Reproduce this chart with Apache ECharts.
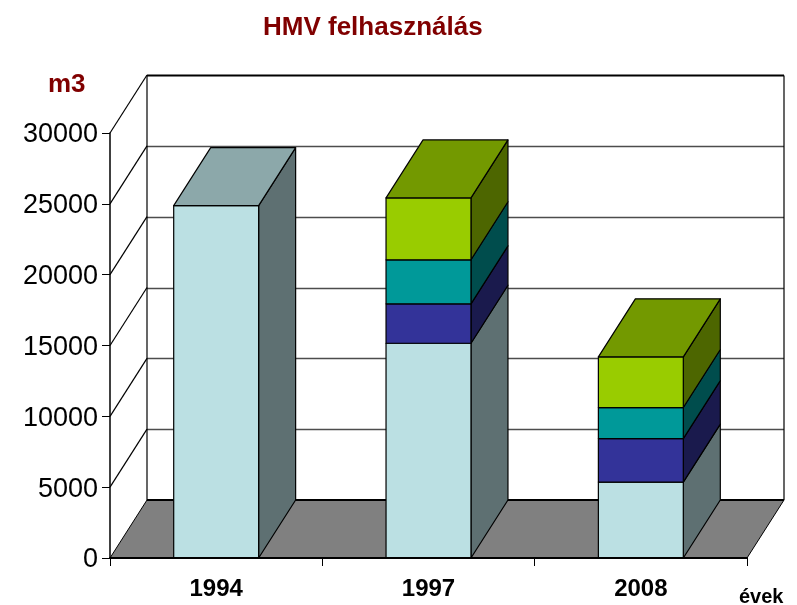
<!DOCTYPE html>
<html>
<head>
<meta charset="utf-8">
<title>HMV felhasználás</title>
<script src="https://cdn.jsdelivr.net/npm/echarts@6/dist/echarts.min.js"></script>
<style>
  html, body { margin: 0; background: #fff; }
  #chart { width: 797px; height: 605px; }
</style>
</head>
<body>
<div id="chart"></div>
<script>
// values
const years = ['1994', '1997', '2008'];
const yTicks = [0, 5000, 10000, 15000, 20000, 25000, 30000];
const light = [24870, 15160, 5360];
const blue = [0, 2780, 3070];
const teal = [0, 3110, 2190];
const green = [0, 4370, 3580];

const layers = [light, blue, teal, green];
const frontColors = ['#BBE0E3', '#333399', '#009999', '#99CC00'];
const topColors = ['#8CA8AA', '#262673', '#007373', '#739900'];
const sideColors = ['#5E7072', '#1A1A4D', '#004D4D', '#4D6600'];

const FONT = '"Liberation Sans", Arial, sans-serif';
// depth of the fake 3d box, in pixels
const DX = 37, DY = -58;
const BAR_RATIO = 0.4;

const chart = echarts.init(document.getElementById('chart'));

function poly(points, fill, stroke, width) {
  return {
    type: 'polygon',
    shape: { points },
    style: { fill, stroke, lineWidth: width, lineJoin: 'round' }
  };
}

function line(a, b, color, width) {
  return {
    type: 'line',
    shape: { x1: a[0], y1: a[1], x2: b[0], y2: b[1] },
    style: { stroke: color, lineWidth: width }
  };
}

// floor, back wall and side wall, one item for each y tick
function renderWall(params, api) {
  const v = api.value(0);
  const p0 = api.coord([0, v]);
  const halfBand = api.size([1, 0])[0] / 2;
  const left = p0[0] - halfBand;
  const right = left + halfBand * 2 * years.length;
  const y = Math.round(p0[1] + DY) + 0.5;
  const front = p0[1];
  const children = [];
  const isTop = v === yTicks[yTicks.length - 1];
  if (v === 0) {
    children.push(poly([[left, front], [left + DX, front + DY], [right + DX, front + DY], [right, front]], '#808080', '#000', 1));
    children.push(line([left + DX, front + DY], [right + DX, front + DY], '#000', 2));
  } else {
    children.push(line([left + DX, y], [right + DX, y], isTop ? '#000' : '#4d4d4d', isTop ? 2 : 1.5));
    children.push(line([left, front], [left + DX, front + DY], '#000', 1.2));
  }
  if (isTop) {
    const y0 = api.coord([0, 0])[1] + DY;
    children.push(line([left + DX, y], [left + DX, y0], '#000', 1.2));
    children.push(line([right + DX, y], [right + DX, y0], '#000', 1.2));
  }
  return { type: 'group', children };
}

function renderSegment(layer) {
  return function (params, api) {
    const i = api.value(0);
    const from = api.value(1);
    const to = api.value(2);
    if (to <= from) return null;
    const bottom = api.coord([i, from]);
    const top = api.coord([i, to]);
    const w = api.size([1, 0])[0] * BAR_RATIO;
    const x0 = bottom[0] - w / 2;
    const x1 = x0 + w;
    const children = [
      poly([[x1, top[1]], [x1 + DX, top[1] + DY], [x1 + DX, bottom[1] + DY], [x1, bottom[1]]], sideColors[layer], '#000', 1.2),
      poly([[x0, top[1]], [x1, top[1]], [x1, bottom[1]], [x0, bottom[1]]], frontColors[layer], '#000', 1.2)
    ];
    // only the highest block of a stack shows its lid
    if (api.value(3)) {
      children.push(poly([[x0, top[1]], [x0 + DX, top[1] + DY], [x1 + DX, top[1] + DY], [x1, top[1]]], topColors[layer], '#000', 1.2));
    }
    return { type: 'group', children };
  };
}

const barSeries = layers.map((values, layer) => ({
  type: 'custom',
  name: 'layer' + layer,
  coordinateSystem: 'cartesian2d',
  clip: false,
  silent: true,
  z: 3 + layer,
  renderItem: renderSegment(layer),
  encode: { x: 0, y: 2 },
  data: values.map((v, i) => {
    const from = layers.slice(0, layer).reduce((sum, l) => sum + l[i], 0);
    const isTop = layers.slice(layer + 1).every(l => l[i] === 0);
    return [i, from, from + v, isTop ? 1 : 0];
  })
}));

chart.setOption({
  animation: false,
  backgroundColor: '#fff',
  title: {
    text: 'HMV felhasználás',
    left: 263,
    top: 15,
    padding: 0,
    textStyle: { fontFamily: FONT, fontSize: 26, fontWeight: 'bold', color: '#800000' }
  },
  grid: { left: 110, right: 50, top: 133, bottom: 47 },
  xAxis: {
    type: 'category',
    data: years,
    z: 10,
    axisLine: { lineStyle: { color: '#000', width: 2 } },
    axisTick: { show: true, length: 8, lineStyle: { color: '#000', width: 1 } },
    axisLabel: { margin: 19, fontFamily: FONT, fontSize: 24, fontWeight: 'bold', color: '#000' },
    splitLine: { show: false }
  },
  yAxis: {
    type: 'value',
    min: 0,
    max: 30000,
    interval: 5000,
    z: 10,
    axisLine: { show: true, lineStyle: { color: '#000', width: 1.5 } },
    axisTick: { show: true, length: 8, lineStyle: { color: '#000', width: 1 } },
    // thin line box hung from the tick drops the digits 2px, as in the reference
    axisLabel: { margin: 12, verticalAlign: 'top', lineHeight: 4, fontFamily: FONT, fontSize: 27, color: '#000', formatter: v => String(v) },
    splitLine: { show: false }
  },
  graphic: [
    { type: 'text', left: 48, top: 72, style: { text: 'm3', font: 'bold 26px ' + FONT, fill: '#800000' } },
    { type: 'text', left: 739, top: 587, style: { text: 'évek', font: 'bold 20px ' + FONT, fill: '#000' } }
  ],
  series: [
    {
      type: 'custom',
      name: 'walls',
      coordinateSystem: 'cartesian2d',
      clip: false,
      silent: true,
      z: 2,
      renderItem: renderWall,
      encode: { y: 0 },
      data: yTicks.map(v => [v])
    }
  ].concat(barSeries)
});
</script>
</body>
</html>
